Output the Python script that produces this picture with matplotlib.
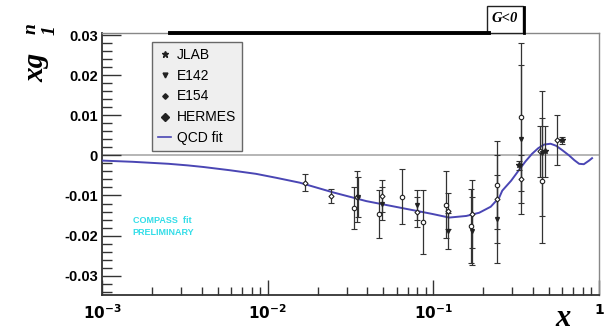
import numpy as np
import matplotlib
matplotlib.use("Agg")
import matplotlib.pyplot as plt
from matplotlib.lines import Line2D
from matplotlib.patches import Rectangle
from matplotlib.ticker import FixedLocator, NullFormatter

# ---------------- data ----------------
fit_x = [0.001, 0.00153, 0.00252, 0.0033, 0.0041, 0.0059, 0.0085, 0.0113, 0.0156,
         0.0247, 0.0394, 0.0624, 0.0986, 0.1247, 0.1581, 0.1892, 0.222, 0.2500, 0.2606,
         0.295, 0.3296, 0.36, 0.3945, 0.43, 0.4667, 0.51, 0.5508, 0.60, 0.6592, 0.71,
         0.7586, 0.81, 0.8710, 0.908]
fit_y = [-0.0013, -0.0016, -0.0021, -0.0025, -0.0029, -0.0037, -0.0046, -0.0056, -0.0068,
         -0.0092, -0.0114, -0.0130, -0.0146, -0.0155, -0.0151, -0.0143, -0.0128, -0.0105, -0.0088,
         -0.0063, -0.0036, -0.0015, 0.0004, 0.0018, 0.0027, 0.0029, 0.0024, 0.0013, 0.0000, -0.0012,
         -0.0021, -0.0022, -0.0013, -0.0007]

jlab_x = [0.33, 0.47, 0.60]
jlab_y = [-0.0025, 0.0010, 0.0038]
jlab_e = [0.0012, 0.0063, 0.0009]

e142_x = [0.035, 0.049, 0.080, 0.122, 0.172, 0.243, 0.340, 0.450]
e142_y = [-0.0103, -0.0120, -0.0123, -0.0188, -0.0188, -0.0158, 0.0040, 0.0005]
e142_e = [0.0050, 0.0040, 0.0037, 0.0045, 0.0085, 0.0110, 0.0186, 0.0155]

e154_x = [0.0169, 0.024, 0.0348, 0.049, 0.080, 0.122, 0.172, 0.243, 0.340, 0.440, 0.560]
e154_y = [-0.0068, -0.0101, -0.0103, -0.0101, -0.0141, -0.0138, -0.0146, -0.0108, -0.0058, 0.0010, 0.0038]
e154_e = [0.0021, 0.0018, 0.0064, 0.0040, 0.0037, 0.0045, 0.0085, 0.0110, 0.0060, 0.0063, 0.0063]

hermes_x = [0.033, 0.047, 0.065, 0.087, 0.120, 0.168, 0.243, 0.340, 0.450]
hermes_y = [-0.0131, -0.0146, -0.0103, -0.0166, -0.0123, -0.0176, -0.0073, 0.0095, -0.0063]
hermes_e = [0.0053, 0.0060, 0.0068, 0.0079, 0.0084, 0.0092, 0.0110, 0.0185, 0.0155]

y_ticks = [-0.03, -0.02, -0.01, 0, 0.01, 0.02, 0.03]
y_ticklabels = ["-0.03", "-0.02", "-0.01", "0", "0.01", "0.02", "0.03"]
x_ticks = [1e-3, 1e-2, 1e-1, 1]
x_ticklabels = [r"$\mathbf{10^{-3}}$", r"$\mathbf{10^{-2}}$", r"$\mathbf{10^{-1}}$", r"$\mathbf{1}$"]
legend_labels = ["JLAB", "E142", "E154", "HERMES", "QCD fit"]

# ---------------- figure ----------------
W, H = 613, 334
fig = plt.figure(figsize=(W / 100, H / 100), dpi=100)
L, R, T, B = 102, 599, 33, 295
ax = fig.add_axes([L / W, 1 - B / H, (R - L) / W, (B - T) / H])
ax.set_xscale("log")
ax.set_xlim(1e-3, 1.0)
ax.set_ylim(-0.0348, 0.0305)

ax.axhline(0, color="#b0b0b0", lw=1.3, zorder=1)

ax.plot(fit_x, fit_y, color="#4a46b4", lw=1.4, zorder=3)

ebkw = dict(ls="none", ecolor="#333333", elinewidth=0.9, capsize=2.0, capthick=0.8, zorder=4)
ax.errorbar(hermes_x, hermes_y, yerr=hermes_e, marker="o", ms=3.2, mfc="white",
            mec="#222222", mew=0.8, **ebkw)
ax.errorbar(e154_x, e154_y, yerr=e154_e, marker="D", ms=2.6, mfc="white",
            mec="#222222", mew=0.8, **ebkw)
ax.errorbar(e142_x, e142_y, yerr=e142_e, marker="v", ms=2.8, mfc="#222222",
            mec="#222222", **ebkw)
ax.errorbar(jlab_x, jlab_y, yerr=jlab_e, marker="*", ms=4.0, mfc="#222222",
            mec="#222222", **ebkw)

# ticks
ax.yaxis.set_major_locator(FixedLocator(y_ticks))
ax.set_yticklabels(y_ticklabels)
ax.yaxis.set_minor_locator(FixedLocator(list(np.arange(-0.034, 0.0305, 0.002))))
ax.xaxis.set_major_locator(FixedLocator(x_ticks))
ax.set_xticklabels(x_ticklabels)
minors = [m * 10.0 ** d for d in (-3, -2, -1) for m in range(2, 10)]
ax.xaxis.set_minor_locator(FixedLocator(minors))
ax.xaxis.set_minor_formatter(NullFormatter())
ax.tick_params(axis="both", which="both", direction="in", top=False, right=False,
               color="#333333", width=1.0)
ax.tick_params(axis="y", which="major", length=14, labelsize=10.5, pad=3)
ax.tick_params(axis="y", which="minor", length=7)
ax.tick_params(axis="x", which="major", length=11, labelsize=11, pad=6)
ax.tick_params(axis="x", which="minor", length=6)
for lab in ax.get_yticklabels():
    lab.set_fontweight("bold")
    lab.set_family("Liberation Sans")
xl = ax.get_xticklabels()
xl[-1].set_fontsize(10)
for s in ("left", "bottom"):
    ax.spines[s].set_color("#333333")
    ax.spines[s].set_linewidth(1.3)
for s in ("top", "right"):
    ax.spines[s].set_color("#888888")
    ax.spines[s].set_linewidth(1.0)

# axis labels
fig.text(36 / W, 1 - 67 / H, "xg", rotation=90, fontsize=21, fontweight="bold",
         style="italic", family="Liberation Serif", ha="center", va="center")
fig.text(31 / W, 1 - 29 / H, "n", rotation=90, fontsize=14, fontweight="bold",
         style="italic", family="Liberation Serif", ha="center", va="center")
fig.text(50 / W, 1 - 30 / H, "1", rotation=90, fontsize=14, fontweight="bold",
         style="italic", family="Liberation Serif", ha="center", va="center")
fig.text(563 / W, 1 - 319 / H, "x", fontsize=22, fontweight="bold", style="italic",
         family="Liberation Serif", ha="center", va="center")

# COMPASS text
ax.text(0.00153, -0.0163, "COMPASS  fit", color="#33dde8", fontsize=6.5,
        fontweight="bold", family="Liberation Sans", va="center")
ax.text(0.00153, -0.0191, "PRELIMINARY", color="#33dde8", fontsize=6.5,
        fontweight="bold", family="Liberation Sans", va="center")

# legend
handles = [
    Line2D([], [], ls="none", marker="*", ms=5, color="#222222"),
    Line2D([], [], ls="none", marker="v", ms=3.5, color="#222222"),
    Line2D([], [], ls="none", marker="D", ms=2.8, color="#222222"),
    Line2D([], [], ls="none", marker="D", ms=3.6, color="#222222"),
    Line2D([], [], color="#4a46b4", lw=1.2),
]
leg = ax.legend(handles, legend_labels, loc="upper left",
                bbox_to_anchor=((152 - L) / (R - L), 1 - (42 - T) / (B - T)),
                frameon=True, fancybox=False, fontsize=10, handlelength=1.0,
                handletextpad=0.4, borderpad=0.4, labelspacing=0.5,
                borderaxespad=0)
leg.get_frame().set_facecolor("#ececec")
leg.get_frame().set_edgecolor("#444444")
leg.get_frame().set_linewidth(1.0)
for t in leg.get_texts():
    t.set_family("Liberation Sans")

# top title fragments
fig.add_artist(Line2D([170 / W, 489 / W], [1 - 33 / H, 1 - 33 / H], color="black", lw=2.8))
fig.add_artist(Rectangle((487 / W, 1 - 33 / H), 36 / W, 27 / H, facecolor="white",
                         edgecolor="#222222", lw=1.0))
fig.add_artist(Line2D([524 / W, 524 / W], [1 - 33 / H, 1 - 7 / H], color="black", lw=2.0))
fig.text(505 / W, 1 - 19 / H, "G<0", fontsize=10.5, fontweight="bold", style="italic",
         family="Liberation Serif", ha="center", va="center")

fig.savefig("out.png", dpi=100)
